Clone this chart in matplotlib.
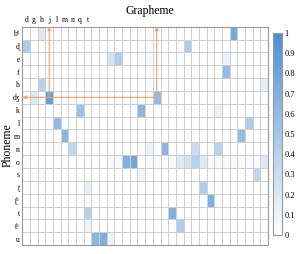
import numpy as np
import matplotlib
matplotlib.use('Agg')
import matplotlib.pyplot as plt
from matplotlib.colors import LinearSegmentedColormap

plt.rcParams['font.family'] = ['Liberation Serif', 'DejaVu Serif', 'DejaVu Sans']

# phonemes (rows) and graphemes (columns)
phonemes = ['bʰ', 'ɖ', 'e', 'f', 'h', 'dʒ', 'k', 'l', 'm', 'n', 'o', 's',
            'ʈ', 'ʈʰ', 't', 'tʰ', 'u']
graphemes = ['d', 'g', 'h', 'j', 'l', 'm', 'n', 'q', 't',
             'ই', 'উ', 'ঋ', 'এ', 'ঐ', 'ও', 'ঔ', 'ক', 'খ', 'ঘ', 'জ', 'ঝ', 'ঞ',
             'ট', 'ঠ', 'ড', 'ণ', 'ত', 'থ', 'দ', 'ধ', 'ন', 'হ']

# non-zero cells: phoneme -> {grapheme column: value}
cells = {
    'bʰ': {2: 0.2, 27: 0.75},
    'ɖ': {0: 0.45, 21: 0.45},
    'e': {0: 0.03, 11: 0.25, 12: 0.45, 15: 0.04, 16: 0.04, 26: 0.12},
    'f': {26: 0.6},
    'h': {2: 0.4, 31: 0.15},
    'dʒ': {1: 0.2, 3: 0.85, 17: 0.6},
    'k': {7: 0.55, 15: 0.65, 25: 0.12},
    'l': {1: 0.03, 4: 0.6, 29: 0.45},
    'm': {2: 0.05, 5: 0.65, 28: 0.6},
    'n': {4: 0.05, 6: 0.35, 16: 0.12, 18: 0.65, 22: 0.3, 25: 0.4},
    'o': {0: 0.03, 5: 0.03, 11: 0.05, 12: 0.05, 13: 0.7, 14: 0.8, 16: 0.05,
          17: 0.05, 19: 0.05, 20: 0.2, 21: 0.25, 22: 0.4, 23: 0.2, 24: 0.05,
          25: 0.05, 26: 0.05, 27: 0.05, 28: 0.05, 29: 0.03, 30: 0.05, 31: 0.2},
    's': {1: 0.05, 2: 0.05, 15: 0.08, 30: 0.35},
    'ʈ': {8: 0.15, 23: 0.45},
    'ʈʰ': {8: 0.05, 24: 0.7},
    't': {8: 0.4, 19: 0.7},
    'tʰ': {8: 0.1, 20: 0.45},
    'u': {9: 0.65, 10: 0.7, 11: 0.1},
}

mat = np.zeros((len(phonemes), len(graphemes)))
for r, p in enumerate(phonemes):
    for c, v in cells[p].items():
        mat[r, c] = v

cmap = LinearSegmentedColormap.from_list('wb', ['#ffffff', '#4b8fd2'])

fig = plt.figure(figsize=(2.99, 2.54), dpi=100)
ax = fig.add_axes([0.075, 0.035, 0.821, 0.860])
mesh = ax.pcolormesh(mat, cmap=cmap, vmin=0, vmax=1,
                     edgecolors='#cfcfcf', linewidth=0.7)
ax.set_xlim(0, len(graphemes))
ax.set_ylim(len(phonemes), 0)

ax.xaxis.tick_top()
ax.set_xticks(np.arange(len(graphemes)) + 0.5)
ax.set_xticklabels(graphemes, fontsize=5.5)
ax.set_yticks(np.arange(len(phonemes)) + 0.5)
ax.set_yticklabels(phonemes, fontsize=5.5)
ax.tick_params(length=0, pad=2)
for s in ax.spines.values():
    s.set_color('#999999')
    s.set_linewidth(0.8)

fig.text(0.5, 0.955, 'Grapheme', fontsize=8.5, ha='center', va='center')
fig.text(0.025, 0.43, 'Phoneme', fontsize=8.5, ha='center', va='center',
         rotation=90)

# orange arrows around the dʒ example
orange = '#f3a06c'
row = phonemes.index('dʒ') + 0.5
aprops = dict(arrowstyle='-|>', color=orange, lw=0.8, mutation_scale=5,
              shrinkA=0, shrinkB=0)
ax.annotate('', xy=(3.5, 0), xytext=(3.5, row), arrowprops=aprops)
ax.annotate('', xy=(17.5, 0), xytext=(17.5, row), arrowprops=aprops)
ax.annotate('', xy=(0, row), xytext=(17.5, row), arrowprops=aprops)

cax = fig.add_axes([0.913, 0.075, 0.030, 0.795])
cb = fig.colorbar(mesh, cax=cax, ticks=np.linspace(0, 1, 11))
cb.ax.set_yticklabels(['0', '0.1', '0.2', '0.3', '0.4', '0.5', '0.6',
                       '0.7', '0.8', '0.9', '1'], fontsize=6)
cb.ax.tick_params(length=0, pad=2)
cb.outline.set_edgecolor('#999999')
cb.outline.set_linewidth(0.8)

fig.savefig('out.png', dpi=100)
